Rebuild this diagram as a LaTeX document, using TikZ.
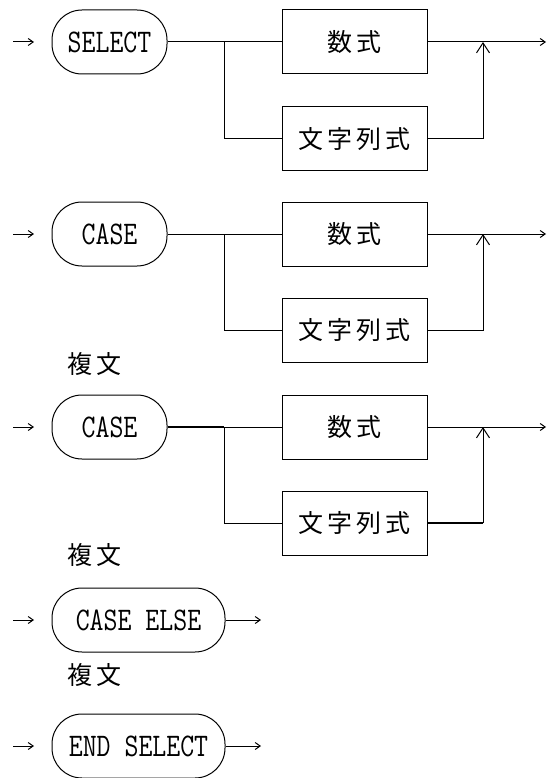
\documentclass[tikz,border=0pt]{standalone}
\usepackage{fontspec}
\usepackage{graphicx}
\usetikzlibrary{arrows.meta}
\newfontfamily\cjk{Noto Sans CJK JP}
\newcommand\kwtext[1]{\scalebox{0.82}[1]{\fontsize{33}{33}\selectfont\ttfamily #1}}
\newcommand\cjkgap{\hspace{4pt}}
\tikzset{
  kwbox/.style={draw, line width=1pt, rectangle, rounded corners=30pt, inner sep=0pt, minimum height=64pt},
  exbox/.style={draw, line width=1pt, rectangle, inner sep=0pt, minimum width=145pt, minimum height=64pt, font=\cjk\fontsize{25}{25}\selectfont},
  lbl/.style={inner sep=0pt, font=\cjk\fontsize{25}{25}\selectfont},
  wire/.style={line width=1pt},
  thick wire/.style={line width=1.7pt},
  inarrow/.style={line width=1pt, -{Straight Barb[length=5pt,width=7pt]}},
  uparrow/.style={line width=1pt, -{Straight Barb[length=10pt,width=13pt]}},
}
\begin{document}
\begin{tikzpicture}[x=1pt,y=-1pt]
\useasboundingbox (0,0) rectangle (547,778);

% ---------- Row 1 : SELECT ----------
\node[kwbox, minimum width=115pt] (s1) at (109.5,42) {\kwtext{SELECT}};
\node[exbox] (a1) at (354.5,42) {数\cjkgap 式};
\node[exbox] (b1) at (354.5,139) {文\cjkgap 字\cjkgap 列\cjkgap 式};
\coordinate (i1) at (13,42);
\coordinate (i1e) at (34,42);
\coordinate (br1) at (224,42);
\coordinate (m1) at (483,42);
\coordinate (o1) at (546,42);
\draw[inarrow] (i1) -- (i1e);
\draw[wire] (s1.east) -- (a1.west);
\draw[wire] (br1) |- (b1.west);
\draw[uparrow] (b1.east) -| (m1);
\draw[inarrow] (a1.east) -- (o1);

% ---------- Row 2 : CASE ----------
\node[kwbox, minimum width=115pt] (s2) at (109.5,234) {\kwtext{CASE}};
\node[exbox] (a2) at (354.5,234) {数\cjkgap 式};
\node[exbox] (b2) at (354.5,330) {文\cjkgap 字\cjkgap 列\cjkgap 式};
\coordinate (i2) at (13,234);
\coordinate (i2e) at (34,234);
\coordinate (br2) at (224,234);
\coordinate (m2) at (483,234);
\coordinate (o2) at (546,234);
\draw[inarrow] (i2) -- (i2e);
\draw[wire] (s2.east) -- (a2.west);
\draw[wire] (br2) |- (b2.west);
\draw[uparrow] (b2.east) -| (m2);
\draw[inarrow] (a2.east) -- (o2);

\node[lbl] (t1) at (94,364) {複\cjkgap 文};

% ---------- Row 3 : CASE ----------
\node[kwbox, minimum width=115pt] (s3) at (109.5,427) {\kwtext{CASE}};
\node[exbox] (a3) at (354.5,427) {数\cjkgap 式};
\node[exbox] (b3) at (354.5,523) {文\cjkgap 字\cjkgap 列\cjkgap 式};
\coordinate (i3) at (13,427);
\coordinate (i3e) at (34,427);
\coordinate (br3) at (224,427);
\coordinate (m3) at (483,427);
\coordinate (o3) at (546,427);
\draw[inarrow] (i3) -- (i3e);
\draw[thick wire] (s3.east) -- (br3);
\draw[wire] (br3) -- (a3.west);
\draw[wire] (br3) |- (b3.west);
\draw[thick wire] (b3.east) -- (b3.east -| m3);
\draw[uparrow] (b3.east -| m3) -- (m3);
\draw[inarrow] (a3.east) -- (o3);

\node[lbl] (t2) at (94,555) {複\cjkgap 文};

% ---------- CASE ELSE ----------
\node[kwbox, minimum width=173pt] (s4) at (138.5,620) {\kwtext{CASE ELSE}};
\coordinate (i4) at (13,620);
\coordinate (i4e) at (34,620);
\coordinate (o4) at (261,620);
\draw[inarrow] (i4) -- (i4e);
\draw[inarrow] (s4.east) -- (o4);

\node[lbl] (t3) at (94,675) {複\cjkgap 文};

% ---------- END SELECT ----------
\node[kwbox, minimum width=173pt] (s5) at (138.5,746) {\kwtext{END SELECT}};
\coordinate (i5) at (13,746);
\coordinate (i5e) at (34,746);
\coordinate (o5) at (261,746);
\draw[inarrow] (i5) -- (i5e);
\draw[inarrow] (s5.east) -- (o5);
\end{tikzpicture}
\end{document}
